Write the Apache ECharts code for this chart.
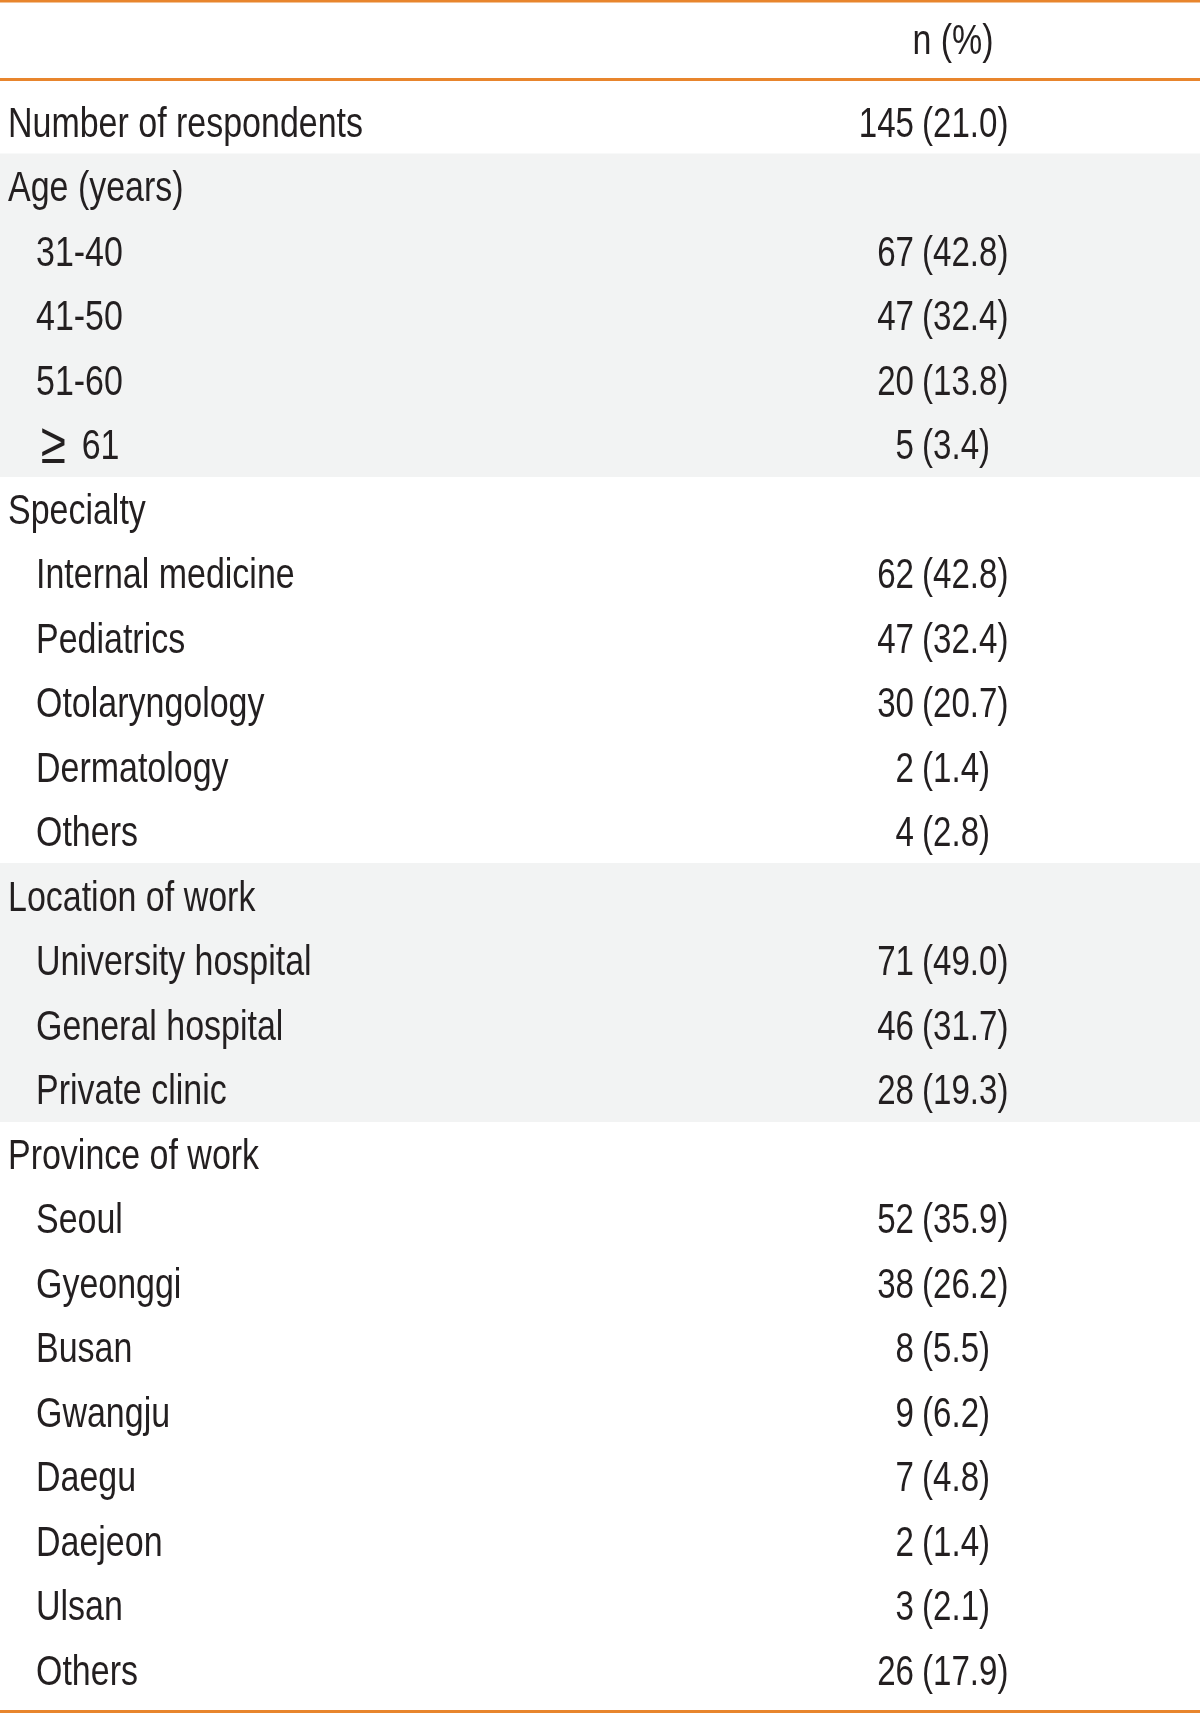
<!DOCTYPE html>
<html>
<head>
<meta charset="utf-8">
<script src="https://cdn.jsdelivr.net/npm/echarts@6/dist/echarts.min.js"></script>
<style>
html,body{margin:0;padding:0;background:#fff;}
#chart{width:1200px;height:1713px;}
</style>
</head>
<body>
<div id="chart"></div>
<script>
const headerText = 'n (%)';
const labels = ['Number of respondents','Age (years)','31-40','41-50','51-60','\u2265 61',
  'Specialty','Internal medicine','Pediatrics','Otolaryngology','Dermatology','Others',
  'Location of work','University hospital','General hospital','Private clinic',
  'Province of work','Seoul','Gyeonggi','Busan','Gwangju','Daegu','Daejeon','Ulsan','Others'];
const levels = [0,0,1,1,1,1, 0,1,1,1,1,1, 0,1,1,1, 0,1,1,1,1,1,1,1,1];
const counts = [145,null,67,47,20,5, null,62,47,30,2,4, null,71,46,28, null,52,38,8,9,7,2,3,26];
const percents = ['21.0',null,'42.8','32.4','13.8','3.4', null,'42.8','32.4','20.7','1.4','2.8',
  null,'49.0','31.7','19.3', null,'35.9','26.2','5.5','6.2','4.8','1.4','2.1','17.9'];
const shaded = [0,1,1,1,1,1, 0,0,0,0,0,0, 1,1,1,1, 0,0,0,0,0,0,0,0,0];

const FONT = '"Liberation Sans", Arial, sans-serif';
const FS = 43;
const SX = 0.79;
const SXN = 0.77;
const TXT = '#231F20';
const ORANGE = '#E8852D';
const FONTSTR = FS + 'px ' + FONT;
const DY = 3;

const chart = echarts.init(document.getElementById('chart'), null, {renderer:'canvas'});
const rowIdx = labels.map((_, i) => i);

function styledText(t) {
  if (t.charAt(0) === '\u2265') {
    return {
      text: '{g|\u2265}{n|' + t.slice(1).trim() + '}',
      rich: {
        g: {font: '58px ' + FONT, fill: TXT, verticalAlign: 'middle', padding: [0, 20, 0, 6]},
        n: {font: FONTSTR, fill: TXT, verticalAlign: 'middle'}
      }
    };
  }
  return {text: t};
}

function textSeries(data, textOf, align, sx) {
  return {
    type:'custom', silent:true, z:5,
    data: data,
    renderItem: function (params, api) {
      const row = api.value(1);
      const p = api.coord([api.value(0), row]);
      const st = Object.assign({font:FONTSTR, fill:TXT, align:align, verticalAlign:'middle'}, styledText(textOf(row)));
      return {type:'text', x:p[0], y:p[1] + DY, scaleX:sx, style:st};
    }
  };
}

chart.setOption({
  animation:false,
  backgroundColor:'#fff',
  grid:{left:0, right:0, top:89.5, bottom:11},
  xAxis:{type:'value', min:0, max:1200, show:false},
  yAxis:{type:'category', data:rowIdx.map(String), inverse:true, show:false},
  graphic:[
    {type:'rect', shape:{x:0,y:0,width:1200,height:2.5}, style:{fill:ORANGE}, z:10},
    {type:'rect', shape:{x:0,y:78,width:1200,height:3}, style:{fill:ORANGE}, z:10},
    {type:'rect', shape:{x:0,y:1710,width:1200,height:3}, style:{fill:ORANGE}, z:10},
    {type:'text', x:953, y:42, scaleX:SX, style:{text:headerText, font:FONTSTR, fill:TXT, align:'center', verticalAlign:'middle'}, z:10}
  ],
  series:[
    {
      type:'bar', silent:true, barWidth:65.5, z:1,
      itemStyle:{color:'#F2F3F3'},
      data: shaded.map(s => s ? 1200 : '-')
    },
    textSeries(labels.map((l, i) => [levels[i] ? 36 : 8, i]), i => labels[i], 'left', SX),
    textSeries(counts.map((c, i) => c == null ? null : [914, i]).filter(d => d), i => String(counts[i]), 'right', SXN),
    textSeries(percents.map((c, i) => c == null ? null : [922, i]).filter(d => d), i => '(' + percents[i] + ')', 'left', SXN)
  ]
});
</script>
</body>
</html>
